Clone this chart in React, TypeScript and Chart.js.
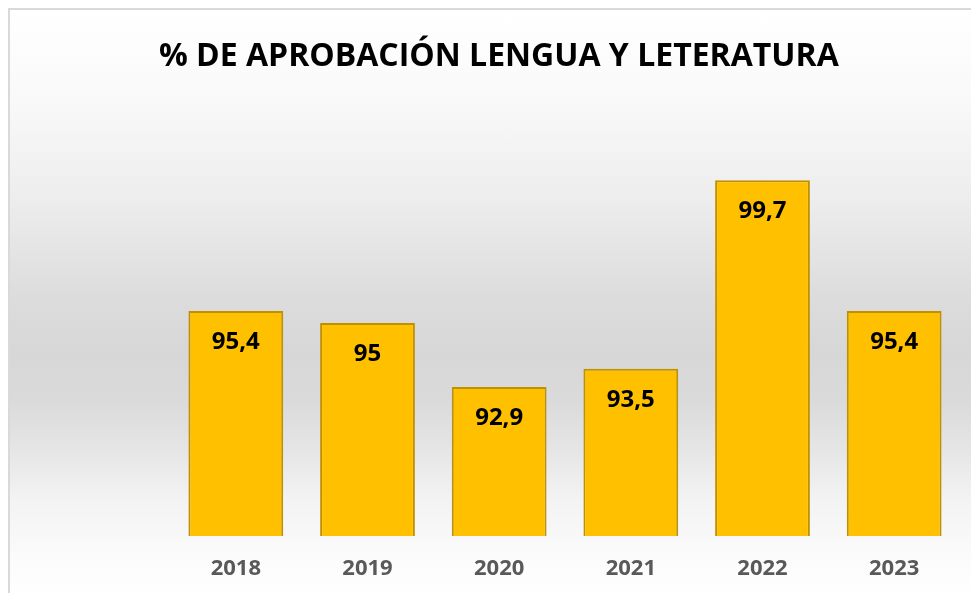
import React, { useEffect, useRef } from "react";
import { Chart, registerables } from "chart.js";

Chart.register(...registerables);

const categories: string[] = ["2018", "2019", "2020", "2021", "2022", "2023"];
const values: number[] = [95.4, 95, 92.9, 93.5, 99.7, 95.4];
const titleText = "% DE APROBACIÓN LENGUA Y LETERATURA";
const yMin = 88;
const yMax = 100;

const FONT = "'Open Sans', 'Noto Sans', sans-serif";

export default function App() {
  const ref = useRef<HTMLCanvasElement | null>(null);

  useEffect(() => {
    if (!ref.current) return;
    const labelPlugin = {
      id: "barLabels",
      afterDatasetsDraw(chart: any) {
        const ctx = chart.ctx;
        const meta = chart.getDatasetMeta(0);
        ctx.save();
        ctx.font = `bold 24px ${FONT}`;
        ctx.fillStyle = "#000000";
        ctx.textAlign = "center";
        ctx.textBaseline = "middle";
        meta.data.forEach((bar: any, i: number) => {
          const v = chart.data.datasets[0].data[i] as number;
          ctx.fillText(String(v).replace(".", ","), bar.x, bar.y + 31);
        });
        ctx.restore();
      },
    };

    const chart = new Chart(ref.current, {
      type: "bar",
      data: {
        labels: categories,
        datasets: [
          {
            data: values,
            backgroundColor: "#FFC000",
            borderColor: "#BF9000",
            borderWidth: 2,
            borderSkipped: false,
            barPercentage: 0.72,
            categoryPercentage: 1,
          },
        ],
      },
      options: {
        responsive: false,
        animation: false,
        layout: { padding: { left: 27.6, right: 28, top: 0, bottom: 17.6 } },
        plugins: {
          legend: { display: false },
          tooltip: { enabled: false },
          title: {
            display: true,
            text: titleText,
            color: "#000000",
            font: { family: FONT, size: 32, weight: "bold" },
            padding: { top: 28, bottom: 94.6 },
          },
        },
        scales: {
          x: {
            grid: { display: false, drawTicks: false },
            border: { display: false },
            ticks: {
              color: "#595959",
              font: { family: FONT, size: 22, weight: "bold" },
              padding: 20,
            },
          },
          y: {
            min: yMin,
            max: yMax,
            grid: { display: false, drawTicks: false },
            border: { display: false },
            ticks: { display: false },
            afterFit: (scale: any) => {
              scale.width = 132.4;
            },
          },
        },
      },
      plugins: [labelPlugin],
    });
    return () => chart.destroy();
  }, []);

  return (
    <div
      style={{
        width: 969,
        height: 583,
        borderTop: "2px solid #D9D9D9",
        borderLeft: "2px solid #D9D9D9",
        overflow: "hidden",
      }}
    >
      <div
        style={{
          width: 978,
          height: 590,
          background:
            "linear-gradient(to bottom, #FFFFFF 0%, #F9F9F9 15%, #EDEDED 32%, #DCDCDC 49%, #D7D7D7 58%, #DADADA 66%, #E6E6E6 75%, #F3F3F3 83%, #FCFCFC 94%, #FFFFFF 100%)",
        }}
      >
        <canvas ref={ref} width={978} height={610} style={{ display: "block" }} />
      </div>
    </div>
  );
}
